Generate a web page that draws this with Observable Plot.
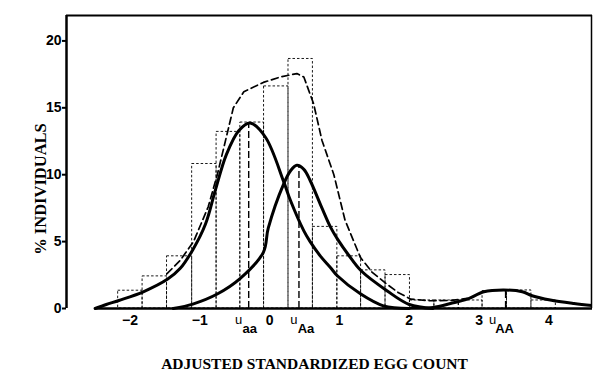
<!DOCTYPE html>
<html><head><meta charset="utf-8">
<script src="https://cdn.jsdelivr.net/npm/d3@7"></script>
<script src="https://cdn.jsdelivr.net/npm/@observablehq/plot@0.6"></script>
<style>body{margin:0;background:#fff}</style>
</head><body><div id="chart"></div>
<script>
// Histogram (bin edges and % individuals per bin)
const binEdges = [-2.17,-1.82,-1.47,-1.11,-0.76,-0.42,-0.08,0.27,0.62,0.97,1.31,1.66,2.01,2.36,2.71,3.05,3.40,3.75,4.10];
const binHeights = [1.33,2.4,3.9,10.8,13.2,13.9,16.6,18.65,6.1,3.9,2.85,2.5,0.6,0.6,0.6,1.3,1.35,0.6];

// Component curve aa
const aaX = [-2.50,-2.34,-2.16,-1.81,-1.46,-1.28,-1.10,-0.92,-0.78,-0.62,-0.44,-0.28,-0.06,0.20,0.30,0.49,0.58,0.73,0.87,0.97,1.30,1.63,2.00];
const aaY = [0,0.3,0.6,1.25,2.2,3.0,4.4,6.3,8.8,11.5,13.3,13.86,12.8,9.5,8.05,5.8,5.0,3.9,3.07,2.45,1.1,0.2,0];
// Component curve Aa
const AaX = [-1.38,-1.10,-0.75,-0.42,-0.09,-0.02,0.20,0.30,0.39,0.49,0.58,0.75,0.87,0.97,1.13,1.31,1.68,2.00,2.34];
const AaY = [0,0.33,1.08,2.25,4.2,6.0,9.3,10.3,10.7,10.4,9.57,7.5,6.1,5.2,4.0,2.82,1.33,0.3,0];
// Component curve AA
const AAX = [2.00,2.34,2.59,2.83,3.07,3.35,3.62,3.76,4.02,4.36,4.65];
const AAY = [0,0.07,0.37,0.7,1.25,1.38,1.25,0.95,0.63,0.37,0.2];
// Total (mixture) curve
const totX = [-1.47,-1.28,-1.09,-0.88,-0.75,-0.63,-0.52,-0.37,-0.09,0.15,0.39,0.49,0.63,0.75,0.92,1.08,1.30,1.47,1.66,1.84,2.02,2.30,2.59,2.83];
const totY = [2.6,3.6,5.0,7.6,10.0,12.6,15.0,16.2,16.9,17.3,17.56,17.3,15.3,12.56,10.0,6.6,3.82,2.7,1.9,1.2,0.7,0.58,0.6,0.75];

// Component means
const meanX = [-0.30, 0.42, 3.38];
const meanPeak = [13.86, 10.7, 1.38];
const meanSub = ["aa", "Aa", "AA"];

const xTicks = [-2,-1,0,1,2,3,4];
const yTicks = [0,5,10,15,20];
const xTitle = "ADJUSTED STANDARDIZED EGG COUNT";
const yTitle = "% INDIVIDUALS";

const xDomain = [-2.91, 4.625];
const yDomain = [0, 21.9];

const bars = binHeights.map((h, i) => ({x1: binEdges[i], x2: binEdges[i+1], h}));
const zip = (xs, ys) => xs.map((x, i) => ({x, y: ys[i]}));
const aa = zip(aaX, aaY), Aa = zip(AaX, AaY), AA = zip(AAX, AAY), tot = zip(totX, totY);
const means = meanX.map((x, i) => ({x, peak: meanPeak[i], sub: meanSub[i]}));
// label offsets (px) for "u" and its subscript, per mean
const uDx = [-10, -5, -13];
const sDx = [1, 7, -1];

const sans = "Liberation Sans, Arial, sans-serif";
const serif = "Liberation Serif, Times New Roman, serif";

const meanLabels = means.flatMap((d, i) => [
  Plot.text([d], {x: "x", y: 0, text: () => "u", dx: uDx[i], dy: 11, fontSize: 13, fontFamily: sans}),
  Plot.text([d], {x: "x", y: 0, text: "sub", dx: sDx[i], dy: 20, fontSize: 13, fontWeight: "bold", fontFamily: sans})
]);

const chart = Plot.plot({
  width: 594, height: 371,
  marginLeft: 66, marginRight: 2, marginTop: 15, marginBottom: 63,
  style: {background: "#fff", color: "#000"},
  x: {domain: xDomain},
  y: {domain: yDomain},
  marks: [
    Plot.rect(bars, {x1: "x1", x2: "x2", y1: 0, y2: "h", fill: "none", stroke: "#000", strokeWidth: 0.9, strokeDasharray: "2.5,2"}),
    Plot.ruleX(means, {x: "x", y1: 0, y2: "peak", stroke: "#000", strokeWidth: 1.4, strokeDasharray: "7,3"}),
    Plot.line(tot, {x: "x", y: "y", stroke: "#000", strokeWidth: 1.7, strokeDasharray: "7,4"}),
    Plot.line(aa, {x: "x", y: "y", stroke: "#000", strokeWidth: 3, curve: "catmull-rom"}),
    Plot.line(Aa, {x: "x", y: "y", stroke: "#000", strokeWidth: 3, curve: "catmull-rom"}),
    Plot.line(AA, {x: "x", y: "y", stroke: "#000", strokeWidth: 3, curve: "catmull-rom", clip: true}),
    Plot.ruleY([0], {x1: -2.5, x2: xDomain[1], stroke: "#000", strokeWidth: 2.5}),
    Plot.ruleY([yDomain[1]], {stroke: "#000", strokeWidth: 2}),
    Plot.ruleX([xDomain[0]], {stroke: "#000", strokeWidth: 2.5}),
    Plot.ruleX([xDomain[1]], {stroke: "#000", strokeWidth: 1.5, dx: -1}),
    Plot.axisY(yTicks, {tickSize: 4, tickPadding: 1, fontSize: 14, fontWeight: "bold", fontFamily: sans, label: null, strokeWidth: 2}),
    Plot.axisX(xTicks, {tickSize: 0, tickPadding: 7, fontSize: 14, fontWeight: "bold", fontFamily: sans, label: null}),
    ...meanLabels,
    Plot.text([xTitle], {frameAnchor: "bottom", textAnchor: "middle", lineAnchor: "middle", dy: 56, dx: -15, fontSize: 15.5, fontWeight: "bold", fontFamily: serif}),
    Plot.text([yTitle], {frameAnchor: "left", textAnchor: "middle", lineAnchor: "middle", dx: -26, dy: 27, rotate: -90, fontSize: 16.5, fontWeight: "bold", fontFamily: serif})
  ]
});
document.getElementById("chart").append(chart);
</script>
</body></html>
